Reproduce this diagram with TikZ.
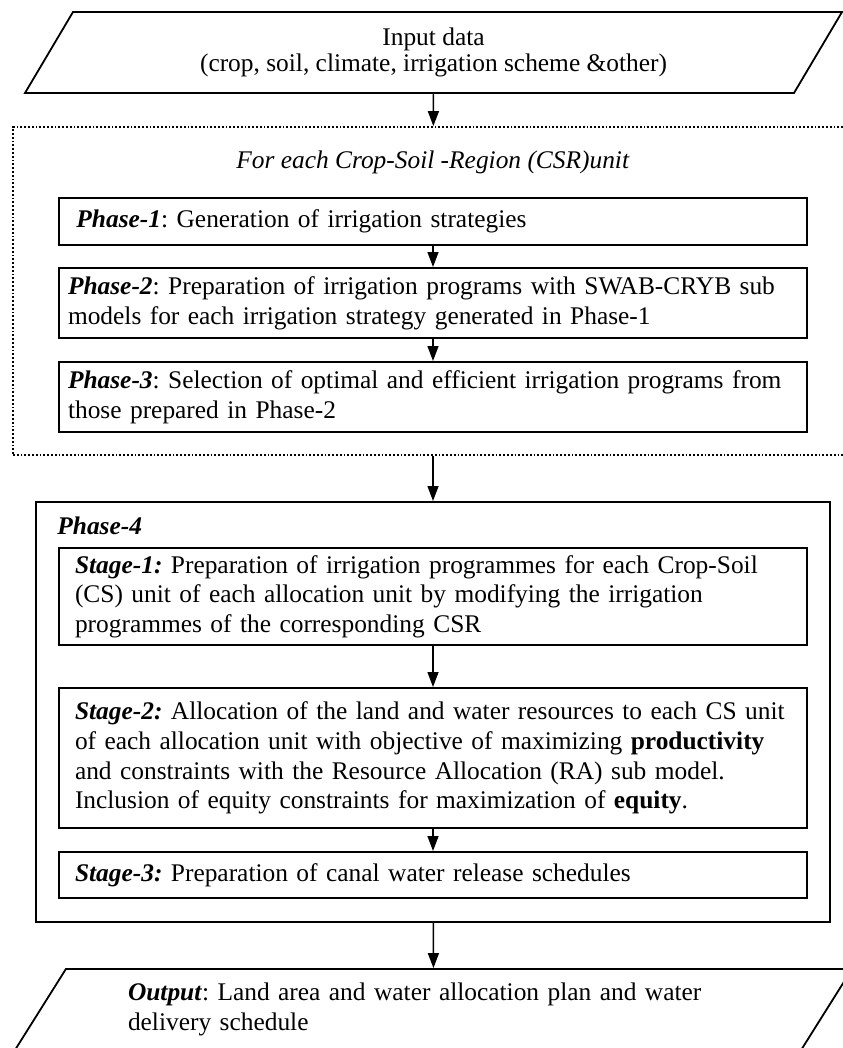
\documentclass[tikz,border=0pt]{standalone}
\usepackage{fontspec}
\setmainfont{Liberation Serif}
\usetikzlibrary{shapes,arrows.meta,positioning,fit,calc}
\frenchspacing

\begin{document}
\begin{tikzpicture}[x=0.5pt, y=-0.5pt,
  every node/.style={font=\fontsize{12.7}{14.8}\selectfont},
  >={Triangle[length=7.5pt,width=5.5pt]},
  flow/.style={->, line width=0.7pt},
  iobox/.style={draw, line width=0.9pt, trapezium, trapezium left angle=46,
    trapezium right angle=134, trapezium stretches body,
    minimum width=#1, minimum height=40.5pt, inner sep=0pt},
  phasebox/.style={draw, line width=1pt, minimum width=374pt, minimum height=#1,
    text width=365pt, inner xsep=4.5pt, inner ysep=0pt, align=left},
  stagebox/.style={draw, line width=1pt, minimum width=374pt, minimum height=#1,
    text width=358pt, inner xsep=8pt, inner ysep=0pt, align=left}]
\useasboundingbox (0,0) rectangle (842,1048);

% Input data
\node[iobox=408.5pt, align=center] (input) at (433.5,52.5)
  {Input data\\[-1.5pt](crop, soil, climate, irrigation scheme \&other)};

% CSR unit (phases 1-3)
\node[draw, densely dotted, line width=0.9pt, minimum width=420pt,
  minimum height=164pt] (csr) at (433,291) {};
\node (csrlabel) at (433,162) {\textit{For each Crop-Soil -Region (CSR)unit}};

\node[phasebox=23.5pt] (p1) at (433,221.5)
  {\ \textbf{\textit{Phase-1}}: Generation of irrigation strategies};
\node[phasebox=35pt] (p2) at (433,303)
  {\textbf{\textit{Phase-2}}: Preparation of irrigation programs with SWAB-CRYB sub\\
   models for each irrigation strategy generated in Phase-1};
\node[phasebox=35pt] (p3) at (433,397)
  {\textbf{\textit{Phase-3}}: Selection of optimal and efficient irrigation programs from\\
   those prepared in Phase-2};

% Phase-4 (stages 1-3)
\node[draw, line width=1pt, minimum width=397pt, minimum height=210pt]
  (phasefour) at (433,712) {};
\node[anchor=west, inner sep=0pt] (p4label) at (57,526) {\textbf{\textit{Phase-4}}};

\node[stagebox=48.5pt] (s1) at (433,596.5)
  {\textbf{\textit{Stage-1:}} Preparation of irrigation programmes for each Crop-Soil\\
   (CS) unit of each allocation unit by modifying the irrigation\\
   programmes of the corresponding CSR};
\node[stagebox=70pt] (s2) at (433,758)
  {\textbf{\textit{Stage-2:}} Allocation of the land and water resources to each CS unit\\
   of each allocation unit with objective of maximizing \textbf{productivity}\\
   and constraints with the Resource Allocation (RA) sub model.\\
   Inclusion of equity constraints for maximization of \textbf{equity}.};
\node[stagebox=23pt] (s3) at (433,875)
  {\textbf{\textit{Stage-3:}} Preparation of canal water release schedules};

% Output
\node[iobox=418.5pt, text width=305.5pt, align=left] (output) at (433.5,1009.5)
  {\textbf{\textit{Output}}: Land area and water allocation plan and water\\
   delivery schedule};

% Connectors
\draw[flow] (input) -- (csr);
\draw[flow] (p1) -- (p2);
\draw[flow] (p2) -- (p3);
\draw[flow] (csr) -- (phasefour);
\draw[flow] (s1) -- (s2);
\draw[flow] (s2) -- (s3);
\draw[flow] (phasefour) -- (output);

\end{tikzpicture}
\end{document}
